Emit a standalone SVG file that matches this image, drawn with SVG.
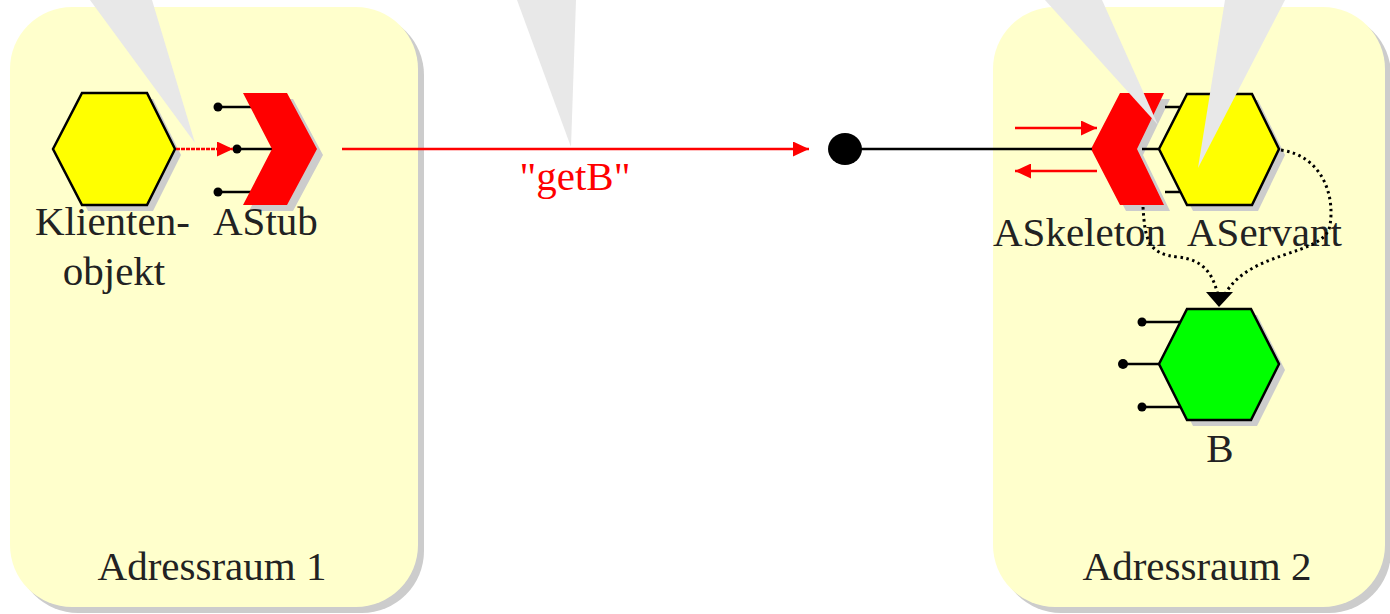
<svg xmlns="http://www.w3.org/2000/svg" width="1390" height="614" viewBox="0 0 1390 614">
<style>
.box{fill:#ffffcc}
.sh{fill:#cccccc}
.lbl{font-family:"Liberation Serif","DejaVu Serif","Times New Roman",serif;font-size:41px;fill:#222222}
.red{fill:#ff0000}
.hex{stroke:#000;stroke-width:2.5;stroke-linejoin:miter}
.pin{stroke:#000;stroke-width:2.5}
.wedge{fill:#e8e8e8}
</style>
<defs>
<marker id="ar" viewBox="0 0 16 15" markerWidth="16" markerHeight="15" refX="16" refY="7.5" orient="auto" markerUnits="userSpaceOnUse"><path d="M0,0 L16,7.5 L0,15 z" fill="#ff0000"/></marker>
</defs>

<g id="adressraum1">
<rect class="sh" x="16" y="13" width="408" height="600" rx="62"/>
<rect class="box" x="10" y="7" width="408" height="600" rx="62"/>
<text class="lbl" x="212" y="580" text-anchor="middle">Adressraum 1</text>
</g>
<g id="adressraum2">
<rect class="sh" x="999" y="13" width="392" height="600" rx="62"/>
<rect class="box" x="993" y="7" width="392" height="600" rx="62"/>
<text class="lbl" x="1197" y="580" text-anchor="middle">Adressraum 2</text>
</g>

<g id="klientenobjekt">
<polygon class="sh" points="59,155 88,99 153,99 181,155 153,211 88,211"/>
<polygon class="hex" fill="#ffff00" points="53,149 82,93 147,93 175,149 147,205 82,205"/>
<text class="lbl" x="35" y="235">Klienten-</text>
<text class="lbl" x="114" y="285" text-anchor="middle">objekt</text>
</g>

<g id="astub">
<line class="pin" x1="218" y1="107" x2="252" y2="107"/>
<line class="pin" x1="237" y1="149" x2="275" y2="149"/>
<line class="pin" x1="218" y1="192" x2="252" y2="192"/>
<circle cx="218" cy="107" r="4.5"/>
<circle cx="237" cy="149" r="4.5"/>
<circle cx="218" cy="192" r="4.5"/>
<polygon class="sh" points="249,99 293,99 323,155 293,211 249,211 278,155"/>
<polygon fill="#ff0000" points="243,93 287,93 317,149 287,205 243,205 272,149"/>
<text class="lbl" x="213" y="235">AStub</text>
</g>

<g id="endpoint">
<ellipse cx="845" cy="149" rx="17" ry="16" fill="#000"/>
</g>

<g id="askeleton">
<polygon class="sh" points="1097,155 1126,99 1170,99 1143,155 1170,211 1126,211"/>
<polygon fill="#ff0000" points="1091,149 1120,93 1164,93 1137,149 1164,205 1120,205"/>
<text class="lbl" x="993" y="246">ASkeleton</text>
</g>

<g id="aservant">
<line class="pin" x1="1165" y1="107" x2="1182" y2="107"/>
<line class="pin" x1="1142" y1="149" x2="1160" y2="149"/>
<line class="pin" x1="1165" y1="192" x2="1182" y2="192"/>
<polygon class="sh" points="1165,155 1193,100 1258,100 1285,155 1258,211 1193,211"/>
<polygon class="hex" fill="#ffff00" points="1159,149 1187,94 1252,94 1279,149 1252,205 1187,205"/>
<text class="lbl" x="1187" y="246">AServant</text>
</g>

<g id="b">
<line class="pin" x1="1142" y1="322" x2="1180" y2="322"/>
<line class="pin" x1="1123" y1="364" x2="1160" y2="364"/>
<line class="pin" x1="1142" y1="407" x2="1180" y2="407"/>
<circle cx="1142" cy="322" r="4.5"/>
<circle cx="1123" cy="364" r="5"/>
<circle cx="1142" cy="407" r="4.5"/>
<polygon class="sh" points="1165,370 1193,315 1257,315 1285,370 1257,426 1193,426"/>
<polygon class="hex" fill="#00ff00" points="1159,364 1187,309 1251,309 1279,364 1251,420 1187,420"/>
<text class="lbl" x="1220" y="462" text-anchor="middle">B</text>
</g>

<g id="connectors">
<line x1="176" y1="149" x2="233" y2="149" stroke="#ff0000" stroke-width="2.5" stroke-dasharray="4 1" marker-end="url(#ar)"/>
<line x1="342" y1="149" x2="809" y2="149" stroke="#ff0000" stroke-width="2.5" marker-end="url(#ar)"/>
<text class="lbl red" x="575" y="190" text-anchor="middle" style="fill:#ff0000">"getB"</text>
<line x1="860" y1="149" x2="1092" y2="149" stroke="#000" stroke-width="2.5"/>
<line x1="1015" y1="128" x2="1097" y2="128" stroke="#ff0000" stroke-width="2.5" marker-end="url(#ar)"/>
<line x1="1097" y1="171" x2="1015" y2="171" stroke="#ff0000" stroke-width="2.5" marker-end="url(#ar)"/>
<path d="M1281,150 C1322,156 1335,195 1330,225 C1325,258 1245,248 1222,300" fill="none" stroke="#000" stroke-width="3" stroke-dasharray="2.5 3.5"/>
<path d="M1143,207 C1145,240 1148,254 1178,257 C1205,260 1214,275 1219,300" fill="none" stroke="#000" stroke-width="3" stroke-dasharray="2.5 3.5"/>
<path d="M1206,292 L1233,292 L1219,307 z" fill="#000"/>
</g>

<g id="callouts">
<polygon class="wedge" points="90,0 152,0 195,143"/>
<polygon class="wedge" points="517,0 576,0 571,147"/>
<polygon class="wedge" points="1045,0 1102,0 1158,125"/>
<polygon class="wedge" points="1225,0 1285,0 1198,168"/>
</g>
</svg>
